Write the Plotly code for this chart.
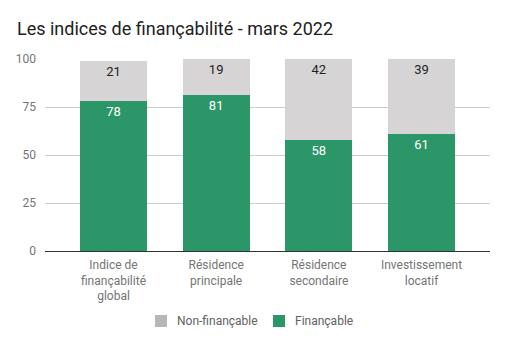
import plotly.graph_objects as go

categories = ["Indice de<br>finançabilité<br>global", "Résidence<br>principale",
              "Résidence<br>secondaire", "Investissement<br>locatif"]
finançable = [78, 81, 58, 61]
non_finançable = [21, 19, 42, 39]
y_ticks = [0, 25, 50, 75, 100]
legend_labels = ["Non-finançable", "Finançable"]

GREEN = "#2b9667"
GRAY = "#d6d4d5"
GRAY_LEGEND = "#b7b7b7"
FONT = "Roboto"
W, H = 507, 346

fig = go.Figure()
fig.add_trace(go.Bar(
    x=list(range(len(categories))), y=finançable, name="Finançable",
    marker=dict(color=GREEN, line=dict(width=0)),
    text=[str(v) for v in finançable], textposition="inside",
    insidetextanchor="end", textfont=dict(color="white", size=13, family=FONT),
    width=0.65, showlegend=False, hoverinfo="skip",
))
fig.add_trace(go.Bar(
    x=list(range(len(categories))), y=non_finançable, name="Non-finançable",
    marker=dict(color=GRAY, line=dict(width=0)),
    text=[str(v) for v in non_finançable], textposition="inside",
    insidetextanchor="end", textfont=dict(color="#222222", size=13, family=FONT),
    width=0.65, showlegend=False, hoverinfo="skip",
))

# legend drawn as swatches + labels below the plot (pixel positions on the page)
legend_items = [(155, 175, GRAY_LEGEND, legend_labels[0]),
                (273, 293, GREEN, legend_labels[1])]
legend_y = 321
shapes, annotations = [], []
for sx, tx, col, lab in legend_items:
    shapes.append(dict(type="rect", xref="paper", yref="paper",
                       x0=(sx - 45) / 445, x1=(sx + 12 - 45) / 445,
                       y0=(251 - (legend_y + 6)) / 192, y1=(251 - (legend_y - 6)) / 192,
                       fillcolor=col, line=dict(width=0)))
    annotations.append(dict(text=lab, xref="paper", yref="paper",
                            x=(tx - 45) / 445, xanchor="left",
                            y=(251 - legend_y) / 192, yanchor="middle",
                            showarrow=False,
                            font=dict(size=12, color="#616161", family=FONT)))

fig.update_layout(
    width=W, height=H,
    barmode="stack",
    margin=dict(l=45, r=17, t=59, b=95),
    paper_bgcolor="white", plot_bgcolor="white",
    font=dict(family=FONT, size=12, color="#757575"),
    title=dict(text="Les indices de finançabilité - mars 2022",
               x=17 / W, xanchor="left", y=1 - 29 / H, yanchor="middle",
               font=dict(family=FONT, size=18, color="#212121")),
    uniformtext=dict(minsize=8, mode="show"),
    showlegend=False,
    shapes=shapes, annotations=annotations,
    xaxis=dict(tickmode="array", tickvals=list(range(len(categories))),
               ticktext=categories, range=[-0.667, 3.667],
               showgrid=False, zeroline=False, showline=False, ticks="",
               ticklabelstandoff=5,
               tickfont=dict(size=12, color="#757575")),
    yaxis=dict(range=[0, 100], tickmode="array", tickvals=y_ticks,
               showgrid=True, gridcolor="#cccccc", gridwidth=1,
               zeroline=True, zerolinecolor="#333333", zerolinewidth=1,
               ticks="", ticklabelstandoff=8,
               tickfont=dict(size=12, color="#757575")),
)

fig.write_html("out.html")
